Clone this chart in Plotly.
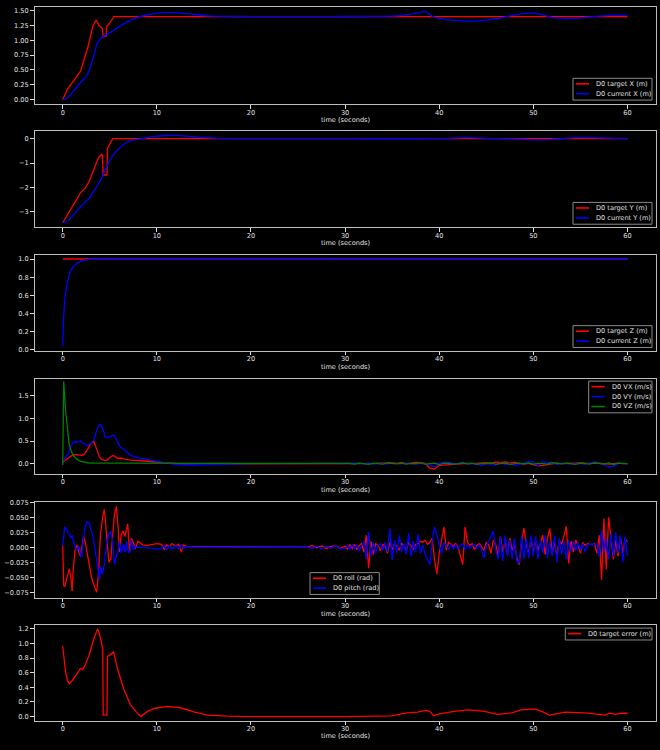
import plotly.graph_objects as go

# ---- data (time in seconds) ----
t_x_target = [0, 0.5, 1.4, 1.9, 2.7, 3.2, 3.55, 3.9, 4.2, 4.3, 4.6, 4.7, 4.9, 5.45, 60]
x_target = [0, 0.18, 0.37, 0.485, 0.90, 1.24, 1.34, 1.24, 1.20, 1.06, 1.07, 1.24, 1.27, 1.40, 1.40]
t_x_current = [0, 0.5, 1.0, 1.9, 2.55, 3.2, 3.7, 4.2, 4.7, 5.3, 6.5, 7.9, 9.0, 11.1, 13.2, 15.4,
               20, 28.5, 35.6, 37, 38.6, 39.3, 40.2, 43.1, 46, 47.8, 49.6, 50.7, 52.1, 54.6, 56.4,
               58.2, 60]
x_current = [0, 0.03, 0.12, 0.29, 0.40, 0.68, 0.96, 1.06, 1.10, 1.155, 1.28, 1.38, 1.43, 1.47,
             1.45, 1.41, 1.40, 1.40, 1.41, 1.44, 1.48, 1.40, 1.36, 1.32, 1.36, 1.42, 1.457, 1.44,
             1.38, 1.37, 1.40, 1.42, 1.42]

t_y_target = [0, 1.0, 1.9, 2.4, 2.8, 3.35, 3.8, 4.2, 4.3, 4.7, 4.75, 5.3, 60]
y_target = [-3.45, -2.80, -2.21, -2.03, -1.76, -1.21, -0.77, -0.63, -1.49, -1.49, -0.40, 0.0, 0.0]
t_y_current = [0, 0.45, 1.0, 1.9, 2.8, 3.5, 4.2, 4.75, 5.5, 6.4, 7.3, 8.4, 9.5, 11.0, 12.5, 14.0,
               16.0, 20, 30, 40, 43, 46, 48.5, 50, 51.5, 53, 54.5, 56, 58, 60]
y_current = [-3.45, -3.40, -3.19, -2.78, -2.44, -2.03, -1.56, -1.08, -0.60, -0.26, -0.07, 0.0,
             0.08, 0.13, 0.12, 0.07, 0.02, 0.0, 0.0, 0.0, 0.04, 0.0, -0.02, -0.05, -0.04, 0.0,
             0.04, 0.04, 0.02, 0.0]

t_z_target = [0, 60]
z_target = [1.0, 1.0]
t_z_current = [0, 0.1, 0.3, 0.5, 0.85, 1.4, 1.9, 2.8, 4.0, 60]
z_current = [0.04, 0.365, 0.62, 0.745, 0.87, 0.945, 0.975, 0.995, 1.0, 1.0]

t_vel = [0.0, 0.1, 0.14, 0.3, 0.5, 0.67, 0.85, 1.0, 1.1, 1.4, 1.5, 1.9, 2.0, 2.3, 2.7, 3.0,
         3.3, 3.6, 3.9, 4.1, 4.3, 4.5, 4.7, 4.8, 5.1, 5.2, 5.4, 5.5, 5.8, 6.1, 6.3, 6.6, 7.0,
         7.2, 8.0, 8.5, 9.1, 10.0, 11.0, 12.0, 13.0, 14.0, 15.0, 17.0, 20.0, 23.0, 26.0, 28.0,
         30.0,
         30.5, 31, 31.5, 32, 32.5, 33, 33.5, 34, 34.5, 35, 35.5, 36, 36.5, 37, 37.5, 38, 38.5,
         39, 39.5, 40, 40.5, 41, 41.5, 42, 42.5, 43, 43.5, 44, 44.5, 45, 45.5, 46, 46.5, 47,
         47.5, 48, 48.5, 49, 49.5, 50, 50.5, 51, 51.5, 52, 52.5, 53, 53.5, 54, 54.5, 55, 55.5,
         56, 56.5, 57, 57.5, 58, 58.5, 59, 59.5, 60]
vx = [0.02, 0.05, 0.06, 0.08, 0.11, 0.14, 0.17, 0.19, 0.20, 0.20, 0.20, 0.19, 0.18, 0.21, 0.34,
      0.45, 0.50, 0.34, 0.15, 0.10, 0.08, 0.07, 0.08, 0.10, 0.15, 0.17, 0.18, 0.16, 0.12, 0.12,
      0.12, 0.10, 0.08, 0.08, 0.07, 0.06, 0.05, 0.03, 0.01, 0.0, -0.01, -0.01, -0.01, 0.0, 0.0,
      0.0, 0.0, 0.0, 0.005,
      0.0, 0.005, -0.005, 0.0, 0.008, -0.005, 0.01, 0.005, 0.015, 0.02, 0.005, 0.02, 0.0, 0.01,
      0.03, 0.02, 0.005, -0.10, -0.12, -0.04, -0.03, -0.025, -0.015, -0.01, 0.0, 0.005, 0.0,
      0.01, 0.005, 0.02, 0.0, 0.04, 0.02, 0.04, 0.01, 0.035, 0.0, -0.01, 0.005, -0.03, -0.05,
      -0.04, -0.02, 0.0, 0.01, 0.0, 0.005, 0.01, 0.02, 0.015, 0.01, 0.0, 0.005, 0.01, 0.0,
      -0.01, 0.0, 0.01, 0.0, -0.005]
vy = [0.04, 0.08, 0.10, 0.15, 0.19, 0.27, 0.37, 0.44, 0.48, 0.48, 0.48, 0.50, 0.49, 0.43, 0.41,
      0.45, 0.52, 0.74, 0.86, 0.85, 0.75, 0.59, 0.58, 0.58, 0.61, 0.62, 0.63, 0.62, 0.48, 0.37,
      0.34, 0.30, 0.22, 0.19, 0.13, 0.11, 0.09, 0.05, 0.01, -0.02, -0.03, -0.025, -0.015, -0.005,
      0.0, 0.0, 0.0, 0.0, 0.005,
      0.0, -0.005, 0.01, -0.01, 0.015, -0.01, 0.005, 0.0, -0.01, 0.01, 0.0, -0.005, 0.01, 0.0,
      -0.01, 0.005, 0.0, -0.02, -0.07, 0.01, 0.03, 0.03, 0.005, 0.0, 0.03, -0.005, 0.0, -0.01,
      -0.04, 0.0, -0.02, -0.03, 0.01, -0.02, 0.0, -0.04, -0.02, 0.02, 0.05, 0.04, -0.05, 0.05,
      0.02, 0.03, -0.02, 0.01, 0.0, -0.01, 0.005, 0.0, -0.01, 0.01, 0.04, 0.01, -0.03, -0.07,
      -0.06, 0.0, 0.01, -0.01]
vz = [-0.03, 1.82, 1.70, 1.18, 0.74, 0.45, 0.30, 0.23, 0.19, 0.12, 0.10, 0.05, 0.045, 0.03, 0.02,
      0.015, 0.012, 0.01, 0.01, 0.01, 0.01, 0.01, 0.01, 0.01, 0.01, 0.01, 0.01, 0.01, 0.01, 0.01,
      0.01, 0.01, 0.01, 0.01, 0.01, 0.01, 0.008, 0.005, 0.0, 0.0, 0.0, 0.0, 0.0, 0.0, 0.0, 0.0,
      0.0, 0.0, 0.0,
      0.005, -0.01, 0.01, 0.0, -0.015, 0.01, 0.005, -0.01, 0.015, 0.0, -0.005, 0.01, -0.01, 0.005,
      0.0, 0.015, -0.01, 0.0, 0.01, -0.02, 0.01, 0.005, -0.01, 0.0, 0.015, -0.005, 0.01, -0.015,
      0.005, 0.0, 0.02, -0.01, 0.005, 0.01, -0.015, 0.0, 0.01, -0.005, 0.015, -0.01, 0.005, 0.0,
      -0.01, 0.02, 0.0, -0.005, 0.01, 0.0, -0.015, 0.01, 0.005, -0.01, 0.02, 0.0, -0.01, 0.015,
      -0.02, 0.01, 0.005, 0.0]

t_att = [0.0, 0.1, 0.2, 0.3, 0.5, 0.7, 0.9, 1.0, 1.1, 1.3, 1.5, 1.7, 1.9, 2.0, 2.2, 2.4, 2.6,
         2.8, 3.0, 3.2, 3.4, 3.6, 3.8, 3.9, 4.0, 4.2, 4.4, 4.5, 4.7, 4.9, 5.1, 5.3, 5.5, 5.7, 5.9,
         6.0, 6.2, 6.4, 6.6, 6.8, 6.9, 7.1, 7.3, 7.5, 7.7, 8.0, 8.5, 9.0, 9.5, 10.0, 10.5, 10.8,
         11.0, 11.3, 11.6, 12.0, 12.3, 12.6, 12.8, 13.2, 14.0, 15.0, 16.0, 18.0, 20.0, 22.0, 24.0,
         26.0, 26.5, 27.0, 27.5, 28.0, 28.5, 29.0, 29.5,
         30.0, 30.25, 30.5, 30.75, 31.0, 31.25, 31.5, 31.75, 32.0, 32.25, 32.5, 32.75,
         33.0, 33.25, 33.5, 33.75, 34.0, 34.25, 34.5, 34.75, 35.0, 35.25, 35.5, 35.75,
         36.0, 36.25, 36.5, 36.75, 37.0, 37.25, 37.5, 37.75, 38.0, 38.25, 38.5, 38.75,
         39.0, 39.25, 39.5, 39.75, 40.0, 40.25, 40.5, 40.75, 41.0, 41.25, 41.5, 41.75,
         42.0, 42.25, 42.5, 42.75, 43.0, 43.25, 43.5, 43.75, 44.0, 44.25, 44.5, 44.75,
         45.0, 45.25, 45.5, 45.75, 46.0, 46.25, 46.5, 46.75, 47.0, 47.25, 47.5, 47.75,
         48.0, 48.25, 48.5, 48.75, 49.0, 49.25, 49.5, 49.75, 50.0, 50.25, 50.5, 50.75,
         51.0, 51.25, 51.5, 51.75, 52.0, 52.25, 52.5, 52.75, 53.0, 53.25, 53.5, 53.75,
         54.0, 54.25, 54.5, 54.75, 55.0, 55.25, 55.5, 55.75, 56.0, 56.25, 56.5, 56.75,
         57.0, 57.25, 57.5, 57.75, 58.0, 58.25, 58.5, 58.75, 59.0, 59.25, 59.5, 59.75,
         60.0]
roll = [0.003, -0.063, -0.066, -0.060, -0.045, -0.036, -0.055,
        -0.073, -0.040, -0.005, 0.004, -0.008, -0.015,
        -0.005, 0.018, 0.008, -0.010, -0.030,
        -0.045, -0.058, -0.068, -0.075, -0.045, -0.010,
        0.020, 0.045, 0.063, 0.050, 0.010, -0.025,
        -0.020, 0.020, 0.055, 0.068, 0.030,
        -0.008, 0.020, 0.027, 0.018, 0.030, 0.039,
        -0.008, 0.015, 0.008, -0.002,
        0.010, 0.004, 0.003, 0.004,
        0.006, 0.005, -0.004, 0.004, 0.001, 0.006,
        0.002, 0.005, -0.008, 0.004, 0.001,
        0.001, 0.001, 0.0005, 0.0, 0.0, 0.0, 0.0, 0.0,
        0.003, -0.001, 0.002, -0.002, 0.001, 0.003, -0.002,
        0.002, -0.003, 0.004, -0.002, 0.005, -0.004, 0.003, 0.006,
        -0.008, 0.020, -0.035, 0.010, -0.012, 0.006, 0.004, -0.006,
        0.005, 0.002, -0.010, 0.008, -0.004, 0.006, 0.002, -0.005,
        0.006, 0.003, -0.006, 0.008, 0.002, -0.004, 0.005, 0.006,
        0.010, 0.008, 0.012, 0.005, 0.008, 0.015, -0.020, -0.045,
        -0.010, 0.010, 0.034, -0.005, 0.008, 0.005, 0.002, 0.006,
        0.000, -0.015, -0.029, 0.034, 0.008, 0.003, 0.006, -0.004,
        0.003, 0.006, 0.000, -0.005, 0.008, 0.004, -0.010, 0.012,
        0.005, -0.015, 0.018, -0.008, 0.010, -0.012, 0.015, -0.005,
        0.005, -0.018, -0.029, 0.010, 0.032, 0.005, -0.010, 0.012,
        -0.008, 0.010, -0.005, 0.006, 0.020, -0.012, 0.015, 0.031,
        -0.010, 0.008, -0.015, 0.012, 0.005, 0.018, 0.035, -0.027,
        0.010, -0.008, 0.012, 0.004, -0.010, 0.008, 0.003, 0.006,
        0.005, 0.004, 0.006, -0.010, 0.020, -0.054, 0.048, -0.037,
        0.050, 0.015, -0.020, 0.012, -0.015, 0.018, -0.010, 0.015,
        0.009]
pitch = [0.003, 0.025, 0.033, 0.032, 0.027, 0.020, 0.015,
         0.020, 0.014, 0.000, -0.005, 0.002, -0.012,
         -0.017, 0.015, 0.035, 0.043, 0.040,
         0.030, 0.018, 0.000, -0.025, -0.050, -0.053,
         -0.031, -0.045, -0.030, -0.012, 0.010, 0.021,
         0.027, 0.010, -0.029, -0.015, -0.005,
         0.010, -0.010, 0.005, -0.008, 0.010, -0.005,
         -0.010, 0.012, -0.005, 0.002,
         0.000, 0.000, -0.001, -0.002,
         -0.003, -0.002, 0.003, -0.004, 0.002, -0.003,
         0.003, -0.003, 0.004, -0.002, 0.001,
         0.000, 0.000, 0.000, 0.0, 0.0, 0.0, 0.0, 0.0,
         -0.002, 0.002, -0.003, 0.002, -0.002, 0.003, -0.003,
         -0.002, 0.003, -0.004, 0.005, -0.003, 0.004, -0.006, 0.003,
         0.010, -0.020, 0.026, -0.015, 0.008, -0.010, 0.004, 0.006,
         -0.005, 0.008, -0.008, 0.031, -0.021, 0.012, -0.010, 0.020,
         -0.008, 0.006, -0.012, 0.023, -0.015, 0.010, -0.008, 0.022,
         -0.010, 0.004, -0.012, -0.020, -0.029, 0.010, 0.034, 0.020,
         0.005, -0.010, 0.008, 0.003, -0.004, 0.005, -0.002, 0.004,
         -0.003, 0.002, 0.006, -0.004, 0.004, -0.002, 0.003, 0.005,
         -0.003, 0.004, -0.005, -0.018, 0.002, 0.010, 0.020, 0.027,
         -0.005, -0.020, 0.018, -0.023, 0.020, -0.015, 0.012, -0.020,
         0.015, -0.023, -0.026, 0.018, -0.020, 0.015, -0.018, 0.020,
         -0.015, 0.018, -0.020, 0.012, -0.010, 0.020, -0.018, 0.010,
         -0.015, 0.020, -0.025, 0.015, -0.012, 0.010, -0.020, 0.012,
         -0.008, 0.010, -0.006, 0.008, -0.005, 0.006, -0.008, 0.004,
         0.005, 0.005, 0.004, 0.005, -0.015, 0.028, -0.010, 0.015,
         -0.020, 0.022, -0.015, 0.025, -0.010, 0.020, -0.025, 0.018,
         -0.015]

t_err = [0, 0.3, 0.5, 0.7, 1.0, 1.9, 2.1, 2.4, 2.8, 3.3, 3.7, 3.9, 4.25, 4.3, 4.7, 4.75, 5.4,
         5.8, 6.5, 7.2, 7.9, 8.3, 9.0, 9.7, 11.1, 12.5, 14.0, 15.4, 17.5, 20, 30, 34.9, 36.6,
         37.7, 38.6, 39.0, 39.4, 40.0, 41.6, 43.1, 44.8, 46.2, 47.7, 48.7, 50.1, 50.9, 51.7,
         53.4, 55.5, 57.6, 58.1, 58.7, 59.3, 60]
target_err = [0.966, 0.61, 0.49, 0.45, 0.49, 0.66, 0.64, 0.71, 0.84, 1.065, 1.20, 1.13, 0.93,
              0.02, 0.02, 0.82, 0.885, 0.66, 0.37, 0.16, 0.05, 0.0, 0.07, 0.11, 0.14, 0.12,
              0.06, 0.02, 0.005, 0.0, 0.0, 0.01, 0.05, 0.06, 0.085, 0.07, 0.01, 0.035, 0.07,
              0.09, 0.07, 0.03, 0.05, 0.09, 0.105, 0.07, 0.02, 0.06, 0.05, 0.02, 0.045, 0.03,
              0.045, 0.045]

# ---- layout ----
W, H = 660, 750
FONT = "DejaVu Sans, sans-serif"
FS = 6.6
TXT = "#e0e0e0"
RED, BLUE, GREEN = "#ff0000", "#0000ff", "#008000"
LW = 1.3

# panel plot areas in pixels (top, bottom), shared left/right
X_LEFT, X_RIGHT = 34.5, 655.7
PANELS = [(4.3, 102.3), (129.3, 226.3), (254.3, 351.0), (379.3, 475.3), (503.3, 600.3), (628.3, 724.3)]
Y_RANGES = [[-0.078, 1.556], [-3.63, 0.31], [-0.008, 1.045], [-0.226, 1.88], [-0.084, 0.076], [-0.055, 1.247]]
Y_TICKS = [
    ([0, 0.25, 0.5, 0.75, 1.0, 1.25, 1.5], ".2f"),
    ([-3, -2, -1, 0], "d"),
    ([0, 0.2, 0.4, 0.6, 0.8, 1.0], ".1f"),
    ([0, 0.5, 1.0, 1.5], ".1f"),
    ([-0.075, -0.05, -0.025, 0, 0.025, 0.05, 0.075], ".3f"),
    ([0, 0.2, 0.4, 0.6, 0.8, 1.0, 1.2], ".1f"),
]
# legend boxes in pixels: (left, top, width)
LEGEND_BOXES = [(573, 76, 79), (573, 201.3, 79), (573, 325.7, 79),
                (588.7, 381.7, 63.3), (310, 575, 69.3), (565.3, 631, 86.7)]


def px_x(p):
    return p / W


def px_y(p):
    return 1 - p / H


fig = go.Figure()
legend_entries = {i: [] for i in range(1, 7)}


def add_line(x, y, name, color, panel, shape="linear"):
    suffix = "" if panel == 1 else str(panel)
    fig.add_trace(
        go.Scatter(
            x=x,
            y=y,
            mode="lines",
            name=name,
            showlegend=False,
            line={"color": color, "width": LW, "shape": shape, "smoothing": 0.6},
            xaxis=f"x{suffix}",
            yaxis=f"y{suffix}",
        )
    )
    legend_entries[panel].append((name, color))


add_line(t_x_target, x_target, "D0 target X (m)", RED, 1)
add_line(t_x_current, x_current, "D0 current X (m)", BLUE, 1, "spline")
add_line(t_y_target, y_target, "D0 target Y (m)", RED, 2)
add_line(t_y_current, y_current, "D0 current Y (m)", BLUE, 2, "spline")
add_line(t_z_target, z_target, "D0 target Z (m)", RED, 3)
add_line(t_z_current, z_current, "D0 current Z (m)", BLUE, 3, "spline")
add_line(t_vel, vx, "D0 VX (m/s)", RED, 4)
add_line(t_vel, vy, "D0 VY (m/s)", BLUE, 4)
add_line(t_vel, vz, "D0 VZ (m/s)", GREEN, 4)
add_line(t_att, roll, "D0 roll (rad)", RED, 5)
add_line(t_att, pitch, "D0 pitch (rad)", BLUE, 5)
add_line(t_err, target_err, "D0 target error (m)", RED, 6)

axis_common = {
    "showgrid": False,
    "zeroline": False,
    "showline": True,
    "mirror": True,
    "linecolor": "#bdbdbd",
    "linewidth": 1,
    "ticks": "outside",
    "ticklen": 3.5,
    "tickwidth": 1,
    "tickcolor": "#dddddd",
    "tickfont": {"family": FONT, "size": FS, "color": TXT},
}

layout = {
    "width": W,
    "height": H,
    "margin": {"l": 0, "r": 0, "t": 0, "b": 0},
    "paper_bgcolor": "black",
    "plot_bgcolor": "black",
    "font": {"family": FONT, "size": FS, "color": TXT},
    "showlegend": False,
    "annotations": [],
    "shapes": [],
}

for i, (top, bottom) in enumerate(PANELS, start=1):
    suffix = "" if i == 1 else str(i)
    tickvals, fmt = Y_TICKS[i - 1]
    layout[f"xaxis{suffix}"] = dict(
        axis_common,
        domain=[px_x(X_LEFT), px_x(X_RIGHT)],
        range=[-3, 63],
        tickvals=[0, 10, 20, 30, 40, 50, 60],
        ticklabelstandoff=-2,
        anchor=f"y{suffix}",
    )
    layout[f"yaxis{suffix}"] = dict(
        axis_common,
        domain=[px_y(bottom), px_y(top)],
        range=Y_RANGES[i - 1],
        tickvals=tickvals,
        tickformat=fmt,
        anchor=f"x{suffix}",
    )
    layout["annotations"].append(
        {
            "text": "time (seconds)",
            "xref": "paper",
            "yref": "paper",
            "x": px_x((X_LEFT + X_RIGHT) / 2),
            "y": px_y(bottom + 16),
            "xanchor": "center",
            "yanchor": "middle",
            "showarrow": False,
            "font": {"family": FONT, "size": FS, "color": TXT},
        }
    )

    # matplotlib-style legend box drawn in paper space
    left, btop, bwidth = LEGEND_BOXES[i - 1]
    entries = legend_entries[i]
    layout["shapes"].append(
        {
            "type": "rect",
            "xref": "paper",
            "yref": "paper",
            "x0": px_x(left),
            "x1": px_x(left + bwidth),
            "y0": px_y(btop),
            "y1": px_y(btop + 10 * len(entries) + 2),
            "fillcolor": "black",
            "line": {"color": "#8a8a8a", "width": 1},
            "layer": "above",
        }
    )
    for k, (name, color) in enumerate(entries):
        yc = btop + 5.6 + 10 * k
        layout["shapes"].append(
            {
                "type": "line",
                "xref": "paper",
                "yref": "paper",
                "x0": px_x(left + 2.7),
                "x1": px_x(left + 16),
                "y0": px_y(yc),
                "y1": px_y(yc),
                "line": {"color": color, "width": 1.6},
                "layer": "above",
            }
        )
        layout["annotations"].append(
            {
                "text": name,
                "xref": "paper",
                "yref": "paper",
                "x": px_x(left + 21),
                "y": px_y(yc),
                "xanchor": "left",
                "yanchor": "middle",
                "showarrow": False,
                "font": {"family": FONT, "size": FS, "color": TXT},
            }
        )

fig.update_layout(layout)
# drop the browser's default page margin so the figure sits at the window origin
fig.write_html(
    "out.html",
    config={"displayModeBar": False},
    post_script="document.body.style.margin='0';",
)
